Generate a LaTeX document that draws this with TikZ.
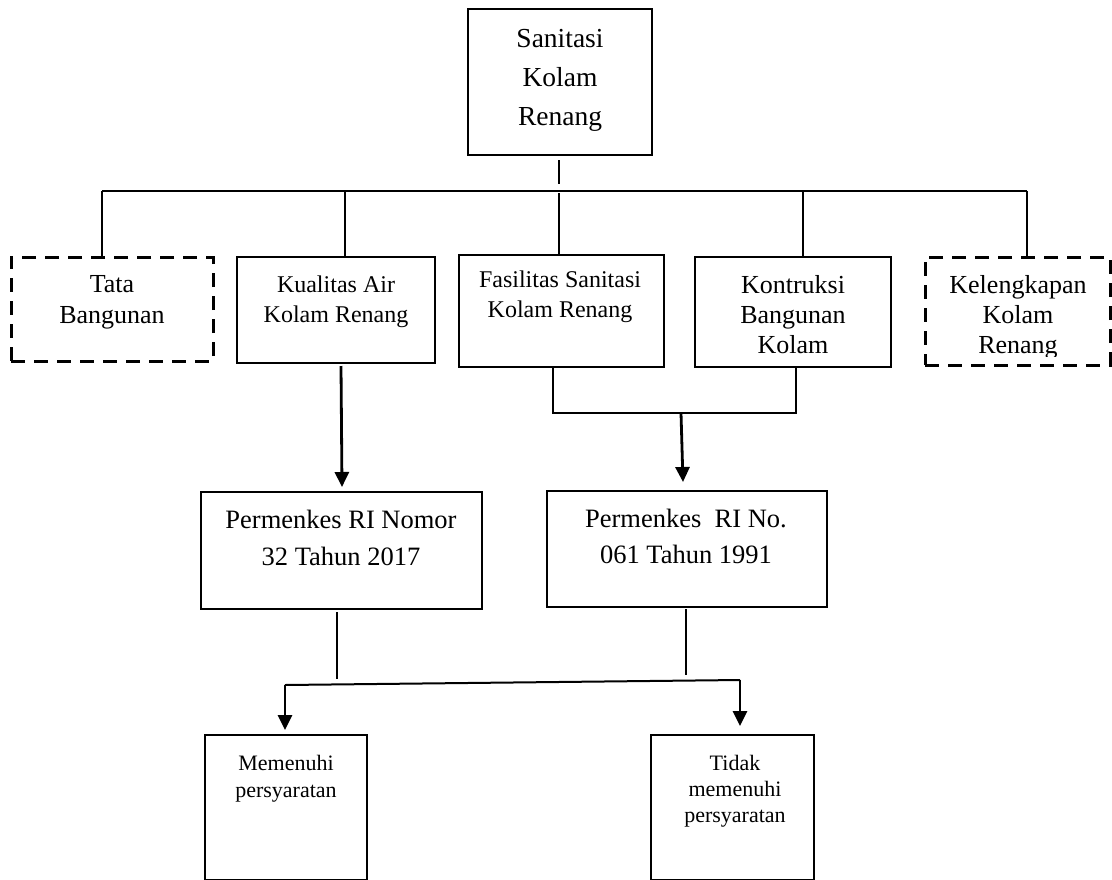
\documentclass[tikz,border=0pt]{standalone}
\usepackage{fontspec}
\setmainfont{Liberation Serif}
\usetikzlibrary{arrows.meta,calc,fit}
\begin{document}
\begin{tikzpicture}[x=1pt,y=-1pt,
 box/.style={draw,line width=2pt,inner sep=0pt},
 dbox/.style={draw,line width=3pt,dash pattern=on 14pt off 9pt,inner sep=0pt},
 conn/.style={line width=2pt},
 arr/.style={line width=2.8pt,-{Triangle[width=14pt,length=15pt]}},
 txt/.style={align=center,inner sep=0pt,anchor=base},
]
\useasboundingbox (0,0) rectangle (1112,879);
% boxes
\node[box,fit={(468,9) (652,155)}] (top) {};
\node[dbox,fit={(11,257) (213,361)}] (tata) {};
\node[box,fit={(237,257) (435,363)}] (kual) {};
\node[box,fit={(459,255) (664,367)}] (fasil) {};
\node[box,fit={(695,257) (891,367)}] (kont) {};
\node[dbox,fit={(925,257) (1110,365)}] (kel) {};
\node[box,fit={(201,492) (482,609)}] (perm1) {};
\node[box,fit={(547,491) (827,607)}] (perm2) {};
\node[box,fit={(205,735) (367,880)}] (mem) {};
\node[box,fit={(651,735) (814,880)}] (tidak) {};
% texts (anchored at the baseline of their last line)
\node[txt,font=\fontsize{27.5}{39}\selectfont] (ttop) at (560,125) {Sanitasi\\Kolam\\Renang};
\node[txt,font=\fontsize{26}{31}\selectfont] (ttata) at (112,323) {Tata\\Bangunan};
\node[txt,font=\fontsize{24}{30}\selectfont] (tkual) at (336,322) {Kualitas Air\\Kolam Renang};
\node[txt,font=\fontsize{24}{30}\selectfont] (tfasil) at (560,317) {Fasilitas Sanitasi\\Kolam Renang};
\node[txt,font=\fontsize{26}{30}\selectfont] (tkont) at (793,353) {Kontruksi\\Bangunan\\Kolam};
\begin{scope}
\clip (927,259) rectangle (1108,356);
\node[txt,font=\fontsize{26}{30}\selectfont] (tkel) at (1018,353) {Kelengkapan\\Kolam\\Renang};
\end{scope}
\node[txt,font=\fontsize{26.5}{37}\selectfont] (tperm1) at (341,565) {Permenkes RI Nomor\\32 Tahun 2017};
\node[txt,font=\fontsize{26.5}{36}\selectfont] (tperm2) at (686,563) {Permenkes\ \ RI No.\\061 Tahun 1991};
\node[txt,font=\fontsize{22}{27}\selectfont] (tmem) at (286,797) {Memenuhi\\persyaratan};
\node[txt,font=\fontsize{22}{26}\selectfont] (ttidak) at (735,822) {Tidak\\memenuhi\\persyaratan};
% coordinates
\coordinate (t1) at (559,160);
\coordinate (t2) at (559,184);
\coordinate (barL) at (102,191);
\coordinate (barR) at (1027,191);
\coordinate (b2) at (345,191);
\coordinate (b3) at (559,193);
\coordinate (b4) at (803,191);
\coordinate (k1) at (341,366);
\coordinate (k2) at (342,487);
\coordinate (f1) at (553,367);
\coordinate (f2) at (553,413);
\coordinate (g1) at (796,367);
\coordinate (g2) at (796,413);
\coordinate (m1) at (681,413);
\coordinate (m2) at (683,482);
\coordinate (p1) at (337,612);
\coordinate (p2) at (337,679);
\coordinate (q1) at (686,609);
\coordinate (q2) at (686,675);
\coordinate (hL) at (285,685);
\coordinate (hR) at (740,680);
% connectors
\draw[conn] (t1) -- (t2);
\draw[conn] (barL) -- (barR);
\draw[conn] (barL) -- (barL |- tata.north);
\draw[conn] (b2) -- (b2 |- kual.north);
\draw[conn] (b3) -- (b3 |- fasil.north);
\draw[conn] (b4) -- (b4 |- kont.north);
\draw[conn] (barR) -- (barR |- kel.north);
\draw[arr] (k1) -- (k2);
\draw[conn] (f1) -- (f2) -- (g2) -- (g1);
\draw[arr] (m1) -- (m2);
\draw[conn] (p1) -- (p2);
\draw[conn] (q1) -- (q2);
\draw[conn] (hL) -- (hR);
\draw[arr] (hL) -- ($(hL)+(0,45)$);
\draw[arr] (hR) -- ($(hR)+(0,46)$);
\end{tikzpicture}
\end{document}
